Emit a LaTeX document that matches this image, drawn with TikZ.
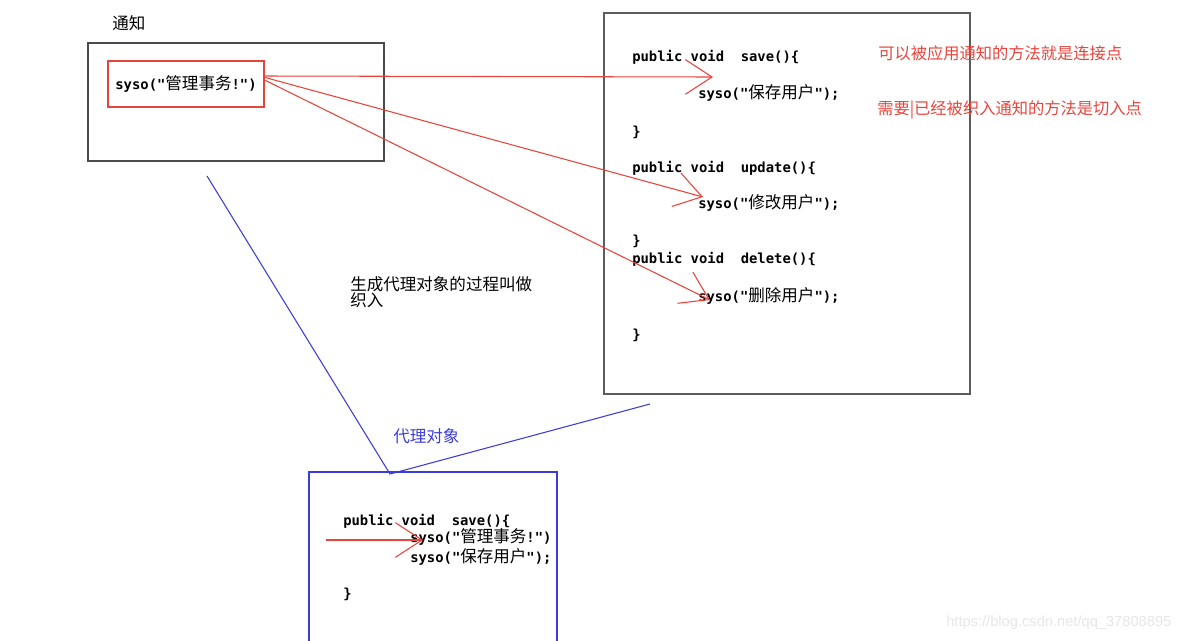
\documentclass[tikz,border=0pt]{standalone}
\usepackage{fontspec}
\setmainfont{Liberation Sans}
\setmonofont{DejaVu Sans Mono}
\newfontfamily\cjk{Noto Sans CJK SC}
\usepackage{tikz}
\usetikzlibrary{arrows.meta}
\definecolor{NoteRed}{HTML}{E8443C}
\definecolor{ProxyBlue}{HTML}{3C3CDC}
\definecolor{BoxGray}{HTML}{4A4A4A}
\definecolor{MarkGray}{HTML}{E6E6E6}
% chinese inside a code line
\newcommand{\cn}[1]{{\cjk\mdseries\fontsize{12.4}{14}\selectfont #1}}

\begin{document}
\begin{tikzpicture}[
  x=0.75pt,y=-0.75pt,
  every node/.style={inner sep=0pt},
  code/.style={anchor=base west,font=\ttfamily\bfseries\fontsize{10.4}{12}\selectfont},
  label/.style={anchor=base west,font=\cjk\fontsize{12.4}{12}\selectfont},
  note/.style={label,text=NoteRed,font=\cjk\fontsize{12.2}{14}\selectfont},
  frame/.style={draw=BoxGray,line width=1.1pt},
  proxybox/.style={draw=ProxyBlue,line width=1pt},
  arr/.style={-{Straight Barb[length=20pt,width=26pt]},draw=NoteRed,line width=0.8pt},
  weave/.style={draw=ProxyBlue,line width=0.8pt}
]
  \useasboundingbox (0,0) rectangle (1198,640);

  % advice
  \node[label] (adviceTitle) at (112,29) {通知};
  \node[frame,minimum width=222pt,minimum height=88.5pt] (advice) at (236,102) {};
  \node[draw=NoteRed,line width=0.8pt,minimum width=117pt,minimum height=34.5pt,
        font=\ttfamily\bfseries\fontsize{10.4}{12}\selectfont] (notice) at (186,84) {syso("\cn{管理事务}!")};

  % target
  \node[frame,draw=BoxGray!90,minimum width=274.5pt,minimum height=285.75pt] (target) at (787,203.5) {};
  \node[code] (saveHead) at (632,61) {public void\ \ save()\{};
  \node[code] (saveBody) at (698,98) {syso("\cn{保存用户}");};
  \node[code] (saveEnd) at (632,136) {\}};
  \node[code] (updateHead) at (632,172) {public void\ \ update()\{};
  \node[code] (updateBody) at (698,208) {syso("\cn{修改用户}");};
  \node[code] (updateEnd) at (632,245) {\}};
  \node[code] (deleteHead) at (632,263) {public void\ \ delete()\{};
  \node[code] (deleteBody) at (698,301) {syso("\cn{删除用户}");};
  \node[code] (deleteEnd) at (632,339) {\}};

  \node[note] (joinpoint) at (878,59) {可以被应用通知的方法就是连接点};
  \node[note] (pointcut) at (877,114) {需要|已经被织入通知的方法是切入点};

  % weaving
  \node[label,align=left] (weaving) at (350,306) {生成代理对象的过程叫做\\织入};
  \node[label,text=ProxyBlue] (proxyTitle) at (393,442) {代理对象};

  % proxy
  \node[proxybox,minimum width=186pt,minimum height=141pt] (proxy) at (433,566) {};
  \node[code] (proxyHead) at (343,525) {public void\ \ save()\{};
  \node[code] (proxyAdvice) at (410,542) {syso("\cn{管理事务}!")};
  \node[code] (proxyBody) at (410,562) {syso("\cn{保存用户}");};
  \node[code] (proxyEnd) at (343,598) {\}};

  \node[anchor=base west,text=MarkGray,font=\fontsize{11}{12}\selectfont] (mark) at (946,626) {https://blog.csdn.net/qq\_37808895};

  \coordinate (saveTip) at (713,77);
  \coordinate (updateTip) at (703,197);
  \coordinate (deleteTip) at (710,300);
  \coordinate (proxyIn) at (326,540);
  \coordinate (proxyTip) at (423,540);
  \coordinate (weaveFrom) at (207,176);
  \coordinate (proxyJoin) at (390,474);
  \coordinate (weaveTo) at (650,404);

  \draw[arr] ([yshift=6pt]notice.east) -- (saveTip);
  \draw[arr] ([yshift=5pt]notice.east) -- (updateTip);
  \draw[arr] ([yshift=3pt]notice.east) -- (deleteTip);
  \draw[arr] (proxyIn) -- (proxyTip);
  \draw[weave] (weaveFrom) -- (proxyJoin) -- (weaveTo);
\end{tikzpicture}
\end{document}
